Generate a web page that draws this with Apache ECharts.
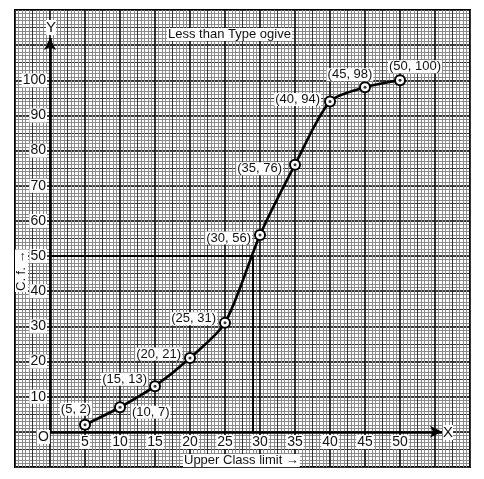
<!DOCTYPE html>
<html>
<head>
<meta charset="utf-8">
<script src="https://cdn.jsdelivr.net/npm/echarts@6/dist/echarts.min.js"></script>
<style>
html,body{margin:0;padding:0;background:#fff;}
#chart{width:484px;height:479px;}
</style>
</head>
<body>
<div id="chart"></div>
<script>
// ---- data ----
const upperLimits = [5, 10, 15, 20, 25, 30, 35, 40, 45, 50];
const cumFreq     = [2, 7, 13, 21, 31, 56, 76, 94, 98, 100];
const xTickLabels = [5, 10, 15, 20, 25, 30, 35, 40, 45, 50];
const yTickLabels = [10, 20, 30, 40, 50, 60, 70, 80, 90, 100];
const medianCf = 50;
const medianX = 29;
const titleText = 'Less than Type ogive';
const xAxisTitle = 'Upper Class limit \u2192';
const yAxisTitle = 'C. f. \u2192';

// ---- label placement (style only) ----
const labelPlace = [
  {position: 'top', offset: [-9, 1]},
  {position: 'right', offset: [1, 5]},
  {position: 'left', offset: [3, -7]},
  {position: 'left', offset: [2, -4]},
  {position: 'left', offset: [2, -4]},
  {position: 'left', offset: [2, 3]},
  {position: 'left', offset: [-2, 4]},
  {position: 'left', offset: [1, -2]},
  {position: 'top', offset: [-15, 4]},
  {position: 'top', offset: [15, 3]}
];

const FONT = '"Liberation Sans", Arial, sans-serif';
const chart = echarts.init(document.getElementById('chart'), null, {renderer: 'canvas'});

const pts = upperLimits.map((x, i) => ({
  value: [x, cumFreq[i]],
  label: labelPlace[i]
}));

const option = {
  backgroundColor: '#fff',
  animation: false,
  grid: {left: 15, right: 14, top: 10, bottom: 12, show: true, borderColor: '#000', borderWidth: 2,
         backgroundColor: 'transparent', containLabel: false, outerBoundsMode: 'none'},
  xAxis: [{
    type: 'value', min: -5, max: 60, interval: 5,
    axisLine: {show: false},
    axisTick: {show: false},
    axisLabel: {
      margin: -32, color: '#111', fontSize: 14, fontFamily: FONT,
      backgroundColor: '#fff', padding: [0, 1],
      formatter: v => xTickLabels.indexOf(v) >= 0 ? String(v) : ''
    },
    splitLine: {show: true, lineStyle: {color: '#000', width: 1.6}},
    minorTick: {show: false, splitNumber: 10},
    minorSplitLine: {show: true, lineStyle: {color: '#8a8a8a', width: 1}}
  }, {
    type: 'value', min: -5, max: 60, interval: 2.5, position: 'top',
    axisLine: {show: false, onZero: false},
    axisTick: {show: false}, axisLabel: {show: false},
    splitLine: {show: true, lineStyle: {color: '#333', width: 1}}
  }],
  yAxis: [{
    type: 'value', min: -10, max: 120, interval: 10,
    axisLine: {show: false},
    axisTick: {show: false},
    axisLabel: {
      margin: -32, color: '#111', fontSize: 14, fontFamily: FONT,
      backgroundColor: '#fff', padding: [0, 1],
      formatter: v => yTickLabels.indexOf(v) >= 0 ? String(v) : ''
    },
    splitLine: {show: true, lineStyle: {color: '#000', width: 1.6}},
    minorTick: {show: false, splitNumber: 10},
    minorSplitLine: {show: true, lineStyle: {color: '#8a8a8a', width: 1}}
  }, {
    type: 'value', min: -10, max: 120, interval: 5, position: 'right',
    axisLine: {show: false, onZero: false},
    axisTick: {show: false}, axisLabel: {show: false},
    splitLine: {show: true, lineStyle: {color: '#333', width: 1}}
  }],
  series: [
    {
      name: 'axes', type: 'line', data: [], xAxisIndex: 0, yAxisIndex: 0,
      markLine: {
        silent: true, symbol: ['none', 'arrow'], symbolSize: [9, 12], precision: 2,
        label: {show: false},
        lineStyle: {color: '#000', width: 2.6, type: 'solid'},
        data: [
          [{coord: [0, 0]}, {coord: [0, 112]}],
          [{coord: [0, 0]}, {coord: [56, 0]}]
        ]
      },
      z: 3
    },
    {
      name: 'median', type: 'line', xAxisIndex: 0, yAxisIndex: 0,
      data: [[0, medianCf], [medianX, medianCf], [medianX, 0]],
      symbol: 'none', lineStyle: {color: '#000', width: 2}, z: 3
    },
    {
      name: 'ogive', type: 'line', xAxisIndex: 0, yAxisIndex: 0,
      data: pts, smooth: 0.25,
      lineStyle: {color: '#000', width: 2.6},
      symbol: 'circle', symbolSize: 10,
      itemStyle: {color: '#fff', borderColor: '#000', borderWidth: 2},
      label: {
        show: true, color: '#111', fontSize: 13, fontFamily: FONT,
        backgroundColor: '#fff', padding: [0, 1], distance: 4,
        formatter: p => '(' + p.value[0] + ', ' + p.value[1] + ')'
      },
      z: 5
    },
    {
      name: 'dots', type: 'scatter', xAxisIndex: 0, yAxisIndex: 0,
      data: upperLimits.map((x, i) => [x, cumFreq[i]]),
      symbol: 'circle', symbolSize: 3, itemStyle: {color: '#000'}, z: 6, silent: true
    }
  ],
  graphic: [
    {type: 'text', left: 167, top: 28, z: 10,
     style: {text: titleText, fill: '#111', font: '13px ' + FONT, backgroundColor: '#fff', padding: [0, 1]}},
    {type: 'text', left: 183, top: 454, z: 10,
     style: {text: xAxisTitle, fill: '#111', font: '13px ' + FONT, backgroundColor: '#fff', padding: [0, 1]}},
    {type: 'text', x: 15, y: 292, rotation: Math.PI / 2, z: 10,
     style: {text: yAxisTitle, fill: '#111', font: '13px ' + FONT, backgroundColor: '#fff', padding: [0, 1]}},
    {type: 'text', left: 37, top: 430, z: 10,
     style: {text: 'O', fill: '#111', font: '14px ' + FONT, backgroundColor: '#fff', padding: [0, 1]}},
    {type: 'text', left: 46, top: 20, z: 10,
     style: {text: 'Y', fill: '#111', font: '15px ' + FONT, backgroundColor: '#fff', padding: [0, 0]}},
    {type: 'text', left: 443, top: 425, z: 10,
     style: {text: 'X', fill: '#111', font: '15px ' + FONT, backgroundColor: '#fff', padding: [0, 0]}}
  ]
};
chart.setOption(option);
</script>
</body>
</html>
